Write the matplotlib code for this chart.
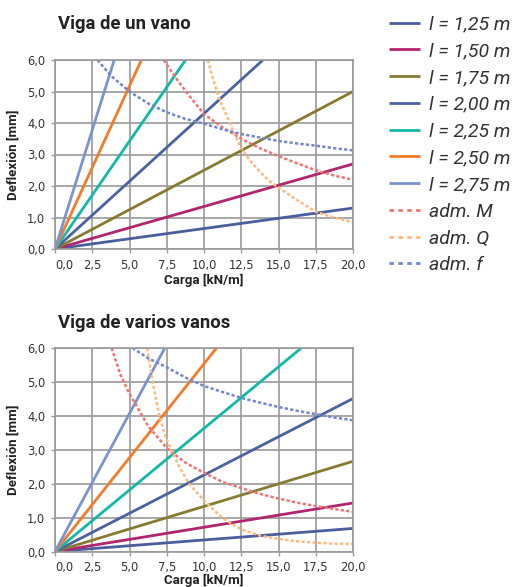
import matplotlib
matplotlib.use('Agg')
import matplotlib.pyplot as plt
from matplotlib.lines import Line2D

plt.rcParams['font.family'] = ['Roboto', 'DejaVu Sans']

# Loads and tick labels
cargas = [0.0, 20.0]
x_ticks = [0.0, 2.5, 5.0, 7.5, 10.0, 12.5, 15.0, 17.5, 20.0]
x_ticklabels = ['0,0', '2,5', '5,0', '7,5', '10,0', '12,5', '15,0', '17,5', '20,0']
y_ticks = [0, 1, 2, 3, 4, 5, 6]
y_ticklabels = ['0,0', '1,0', '2,0', '3,0', '4,0', '5,0', '6,0']

luces = ['1,25', '1,50', '1,75', '2,00', '2,25', '2,50', '2,75']
colores = ['#4a5e9e', '#b3246f', '#857c32', '#4a629f', '#11b8a8', '#f47b2a', '#7c94cc']

# Deflection [mm] at 20 kN/m for each span (lines start at the origin)
flecha_un_vano = [1.30, 2.70, 5.00, 8.60, 13.7, 20.7, 30.2]
flecha_varios = [0.68, 1.43, 2.66, 4.51, 7.26, 11.07, 16.28]

# Admissible limits, single span
m_un_x = [7.3, 8.0, 8.75, 10.0, 11.25, 12.5, 13.75, 15.0, 16.25, 17.5, 18.75, 20.0]
m_un_y = [6.0, 5.5, 5.02, 4.28, 3.86, 3.50, 3.20, 2.95, 2.72, 2.50, 2.33, 2.20]
q_un_x = [10.25, 10.6, 11.0, 11.5, 12.0, 12.5, 13.1, 13.75, 14.4, 15.0, 16.25, 17.5, 18.75, 20.0]
q_un_y = [6.0, 5.4, 4.8, 4.25, 3.7, 3.2, 2.8, 2.45, 2.15, 1.95, 1.55, 1.18, 1.0, 0.85]
f_un_x = [2.85, 3.75, 5.0, 6.25, 7.5, 8.75, 10.0, 11.25, 12.5, 13.75, 15.0, 16.25, 17.5, 18.75, 20.0]
f_un_y = [6.0, 5.5, 5.0, 4.62, 4.34, 4.13, 3.98, 3.80, 3.65, 3.54, 3.43, 3.35, 3.28, 3.20, 3.13]

# Admissible limits, continuous beam
m_va_x = [3.8, 4.4, 5.0, 6.25, 7.5, 8.75, 10.0, 11.25, 12.5, 13.75, 15.0, 16.25, 17.5, 18.75, 20.0]
m_va_y = [6.0, 5.2, 4.65, 3.7, 3.05, 2.62, 2.32, 2.05, 1.87, 1.70, 1.56, 1.44, 1.34, 1.25, 1.17]
q_va_x = [6.18, 6.55, 7.0, 7.4, 7.8, 8.4, 9.0, 10.0, 11.25, 12.5, 13.75, 15.0, 16.25, 17.5, 18.75, 20.0]
q_va_y = [6.0, 5.0, 4.0, 3.4, 3.0, 2.45, 2.0, 1.5, 0.98, 0.65, 0.47, 0.37, 0.30, 0.26, 0.23, 0.22]
f_va_x = [5.2, 6.25, 7.5, 8.75, 10.0, 11.25, 12.5, 13.75, 15.0, 16.25, 17.5, 18.75, 20.0]
f_va_y = [6.0, 5.7, 5.43, 5.13, 4.88, 4.70, 4.53, 4.39, 4.26, 4.15, 4.05, 3.95, 3.87]

adm_labels = ['adm. M', 'adm. Q', 'adm. f']
adm_colores = ['#f07474', '#fdba80', '#7287cc']

GRIS = '#9a9a9a'


def dibujar(ax, flechas, adm):
    for flecha, color, luz in zip(flechas, colores, luces):
        ax.plot(cargas, [0.0, flecha], color=color, lw=2.0,
                label='l = %s m' % luz, solid_capstyle='butt')
    for (xs, ys), color, lab in zip(adm, adm_colores, adm_labels):
        ax.plot(xs, ys, color=color, lw=1.8, dashes=(1.3, 0.9), label=lab)

    ax.set_xlim(0, 20)
    ax.set_ylim(0, 6)
    ax.set_xticks(x_ticks)
    ax.set_xticklabels(x_ticklabels, family='DejaVu Sans')
    ax.set_yticks(y_ticks)
    ax.set_yticklabels(y_ticklabels, family='DejaVu Sans')
    ax.xaxis.get_ticklabels()[0].set_horizontalalignment('left')
    ax.tick_params(length=3, width=1.0, color=GRIS, labelsize=8.3,
                   labelcolor='#333333', pad=4)
    ax.grid(True, color=GRIS, lw=1.2)
    ax.set_axisbelow(True)
    for sp in ax.spines.values():
        sp.set_color(GRIS)
        sp.set_linewidth(1.2)
    ax.set_xlabel('Carga [kN/m]', fontsize=9.5, fontweight='bold', color='#222222')
    ax.set_ylabel('Deflexión [mm]', fontsize=9.5, fontweight='bold', color='#222222')
    ax.yaxis.set_label_coords(-0.117, 0.5)


fig = plt.figure(figsize=(5.2, 5.87), dpi=100)
ax1 = fig.add_axes([55 / 520, 1 - 249 / 587, 298 / 520, 189 / 587])
ax2 = fig.add_axes([55 / 520, 1 - 551.5 / 587, 298 / 520, 203.5 / 587])

dibujar(ax1, flecha_un_vano, [(m_un_x, m_un_y), (q_un_x, q_un_y), (f_un_x, f_un_y)])
dibujar(ax2, flecha_varios, [(m_va_x, m_va_y), (q_va_x, q_va_y), (f_va_x, f_va_y)])
ax1.xaxis.set_label_coords(0.5, -0.13)
ax2.xaxis.set_label_coords(0.5, -0.11)

fig.text(58 / 520, 1 - 29.3 / 587, 'Viga de un vano', fontsize=13.3,
         fontweight='bold', color='#222222', va='baseline')
fig.text(58 / 520, 1 - 327.7 / 587, 'Viga de varios vanos', fontsize=13.3,
         fontweight='bold', color='#222222', va='baseline')

# legend: solid entries from the axes, dashed entries with longer dashes
handles, labels = ax1.get_legend_handles_labels()
handles = handles[:7] + [Line2D([], [], color=c, lw=2.0, dashes=(1.6, 1.6))
                         for c in adm_colores]
leg = fig.legend(handles, labels, loc='upper left',
                 bbox_to_anchor=(389 / 520, 1 - 15.5 / 587),
                 frameon=False, borderpad=0, borderaxespad=0,
                 handlelength=1.6, handletextpad=0.45, labelspacing=0.45,
                 prop={'size': 14, 'style': 'italic'})
for t in leg.get_texts():
    t.set_color('#333333')

fig.savefig('out.png', dpi=100)
